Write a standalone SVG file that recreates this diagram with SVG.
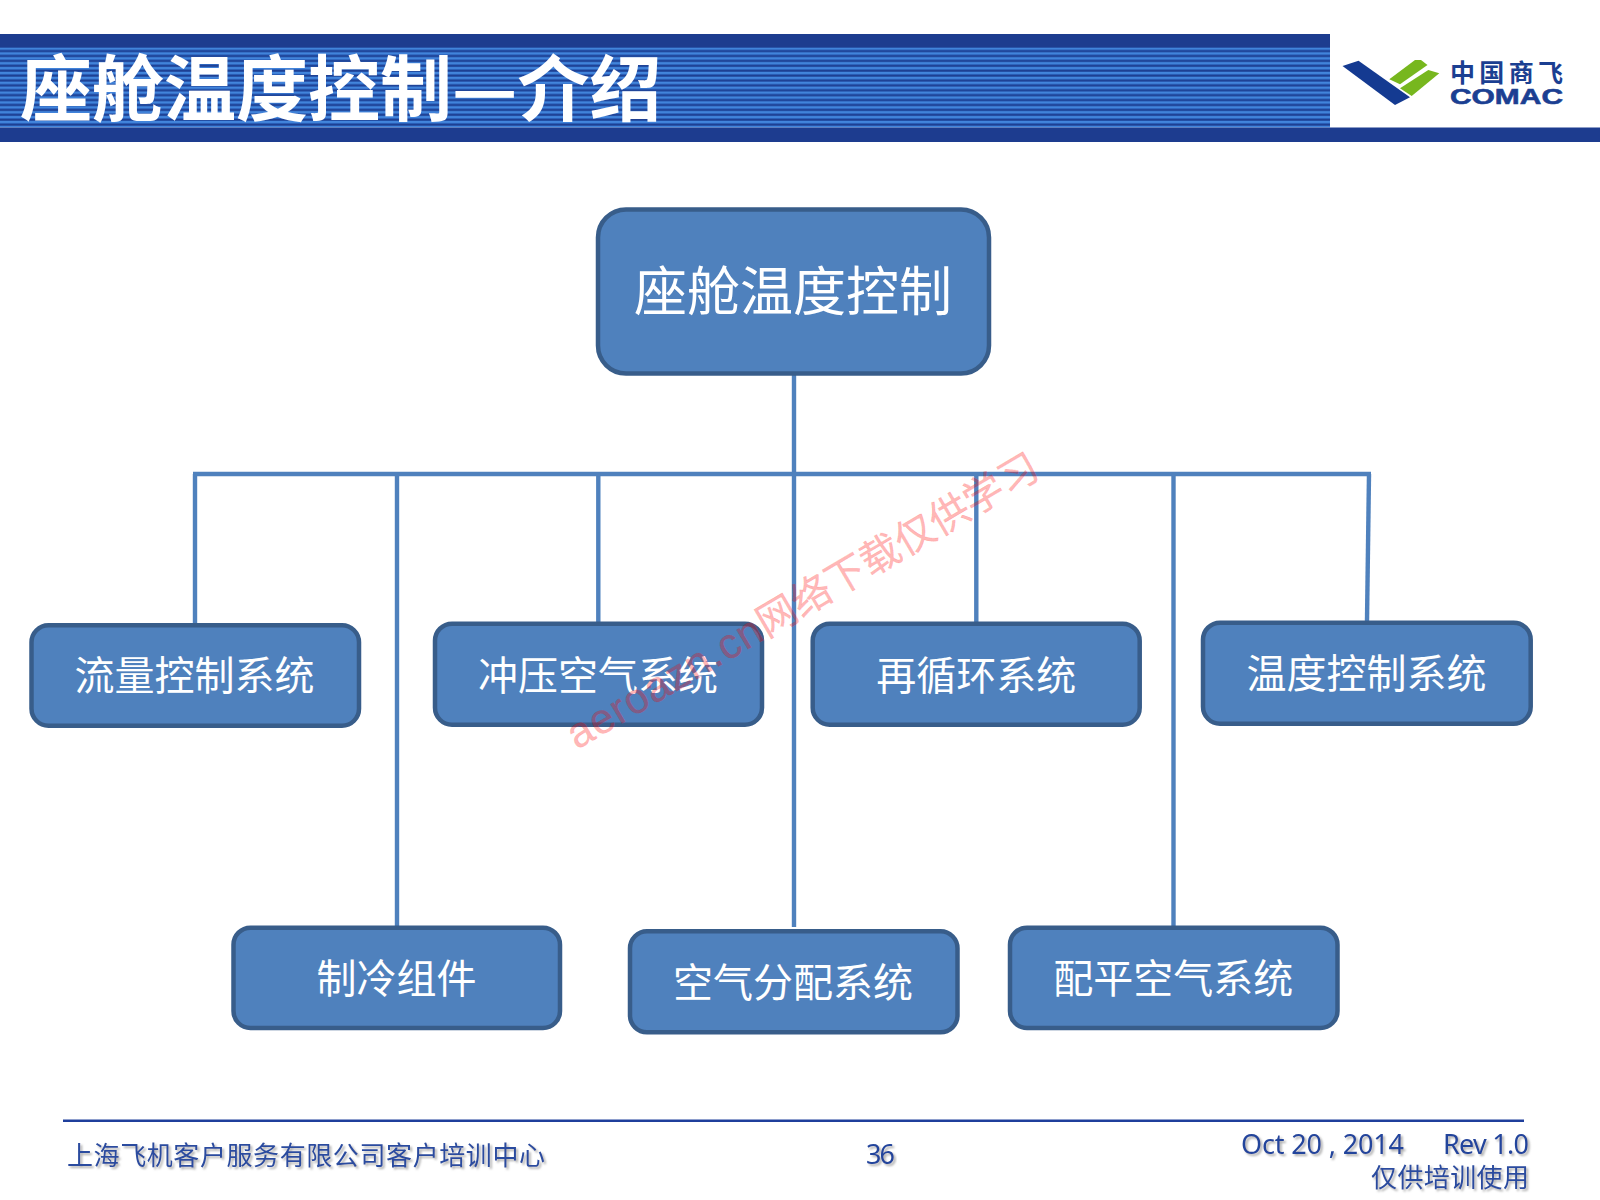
<svg xmlns="http://www.w3.org/2000/svg" width="1600" height="1200" viewBox="0 0 1600 1200">
<style>
.box{fill:#4f81bd;stroke:#385d8a;stroke-width:4.5}
.conn{fill:none;stroke:#4f81bd;stroke-width:4.4}
.lbl{font-family:"Noto Sans CJK SC","Liberation Serif",serif;fill:#fff;text-anchor:middle;font-size:40px}
.foot{font-family:"Noto Sans CJK SC",sans-serif;fill:#2b4c9f;font-size:26px;filter:url(#sh)}
.lat{font-family:"Noto Sans","Liberation Sans",sans-serif;fill:#23449c;font-size:27px;filter:url(#sh)}
</style>
<defs>
<pattern id="stripes" patternUnits="userSpaceOnUse" x="0" y="47.5" width="10" height="4.9">
<rect width="10" height="4.9" fill="#2a5fb8"/>
<rect width="10" height="1.9" fill="#4285dc"/>
<rect y="3" width="10" height="1.4" fill="#1d3d90"/>
</pattern>
<filter id="sh" x="-5%" y="-20%" width="110%" height="150%">
<feDropShadow dx="2" dy="2" stdDeviation="1.2" flood-color="#8a8a8a" flood-opacity="0.7"/>
</filter>
</defs>
<rect width="1600" height="1200" fill="#fff"/>
<g id="header">
<rect x="0" y="34" width="1330" height="14" fill="#1d3c8f"/>
<rect x="0" y="47.5" width="1330" height="80" fill="url(#stripes)"/>
<rect x="0" y="127.5" width="1600" height="14.5" fill="#1d3c8f"/>
<text x="20" y="115" font-family="'Noto Sans CJK SC',sans-serif" font-weight="700" font-size="72" fill="#fff">座舱温度控制—介绍</text>
</g>
<g id="logo">
<polygon points="1342.5,66 1358.5,60.7 1410,97.3 1395,105" fill="#143a91"/>
<polygon points="1389.3,79.3 1415,60 1421,60 1427.5,65 1400,84.3" fill="#77b71e"/>
<polygon points="1400,88.3 1428.3,70 1439.3,73.3 1411.7,96" fill="#77b71e"/>
<text x="1450" y="82" font-family="'Noto Sans CJK SC',sans-serif" font-weight="700" font-size="25" fill="#1b3f92" textLength="113" lengthAdjust="spacing">中国商飞</text>
<text x="1450" y="104" font-family="'Liberation Sans',sans-serif" font-weight="700" font-size="22.5" fill="#1b3f92" stroke="#1b3f92" stroke-width="0.6" textLength="113" lengthAdjust="spacingAndGlyphs">COMAC</text>
</g>
<g id="connectors">
<path class="conn" d="M794 375V927"/>
<path class="conn" d="M193 474H1371"/>
<path class="conn" d="M195 474V624"/>
<path class="conn" d="M397 474V927"/>
<path class="conn" d="M598.3 474V622"/>
<path class="conn" d="M976.3 474V622"/>
<path class="conn" d="M1173.5 474V926"/>
<path class="conn" d="M1369 474L1367 621"/>
</g>
<g id="n-root"><rect class="box" x="598" y="209.5" width="391" height="164" rx="28"/><text class="lbl" x="793" y="311" style="font-size:53px">座舱温度控制</text></g>
<g id="n-flow"><rect class="box" x="31.5" y="625.3" width="327.5" height="100.4" rx="17"/><text class="lbl" x="194.5" y="690">流量控制系统</text></g>
<g id="n-ram"><rect class="box" x="435" y="623.7" width="327" height="101" rx="17"/><text class="lbl" x="598" y="689.5">冲压空气系统</text></g>
<g id="n-recirc"><rect class="box" x="812.7" y="623.7" width="327" height="101" rx="17"/><text class="lbl" x="976.3" y="689.5">再循环系统</text></g>
<g id="n-temp"><rect class="box" x="1203" y="622.7" width="327.7" height="101" rx="17"/><text class="lbl" x="1366.5" y="687.5">温度控制系统</text></g>
<g id="n-pack"><rect class="box" x="233.5" y="927.7" width="326.5" height="100.3" rx="17"/><text class="lbl" x="396.6" y="992.5">制冷组件</text></g>
<g id="n-dist"><rect class="box" x="630" y="931.3" width="327.5" height="101" rx="17"/><text class="lbl" x="793" y="996.5">空气分配系统</text></g>
<g id="n-trim"><rect class="box" x="1010" y="927.7" width="327.5" height="100.3" rx="17"/><text class="lbl" x="1173.2" y="992.5">配平空气系统</text></g>
<g id="footer">
<rect x="63" y="1119.5" width="1461" height="2.5" fill="#1f3f9c"/>
<text class="foot" x="67" y="1165" textLength="478" lengthAdjust="spacing">上海飞机客户服务有限公司客户培训中心</text>
<text class="lat" x="866" y="1164" textLength="29">36</text>
<text class="lat" x="1241" y="1154" textLength="163">Oct 20 , 2014</text>
<text class="lat" x="1443" y="1154" textLength="86">Rev 1.0</text>
<text class="foot" x="1371" y="1187" textLength="158" lengthAdjust="spacing">仅供培训使用</text>
</g>
<g id="watermark" transform="translate(577 750) rotate(-30.5)">
<text x="0" y="0" font-family="'Liberation Sans','Noto Sans CJK SC',sans-serif" font-size="40" fill="#f00" fill-opacity="0.28" stroke="#f00" stroke-opacity="0.12" stroke-width="0.8"><tspan font-size="42.5" letter-spacing="1">aeroazn.cn</tspan>网络下载仅供学习</text>
</g>
</svg>
